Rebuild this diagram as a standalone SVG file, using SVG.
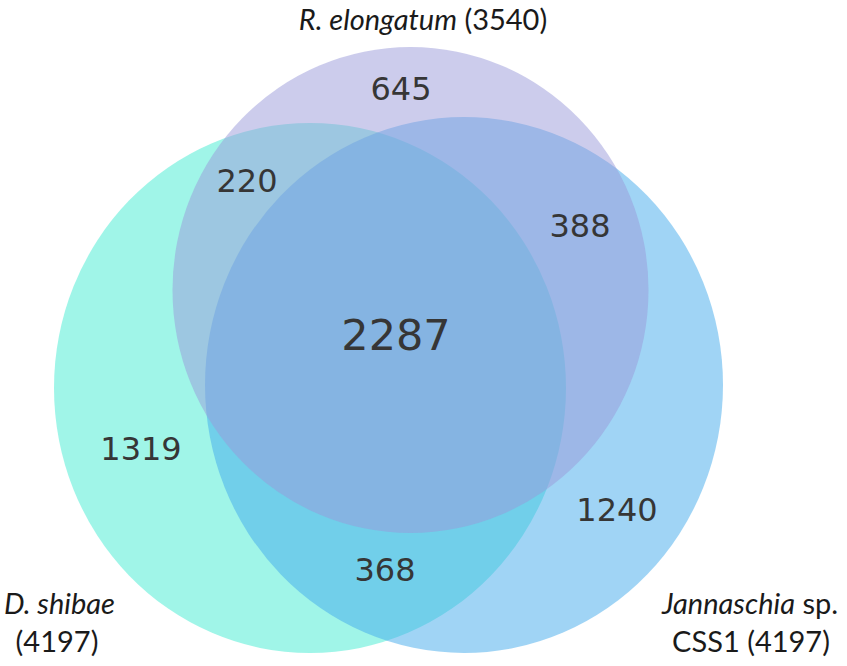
<svg xmlns="http://www.w3.org/2000/svg" width="847" height="666" viewBox="0 0 847 666">
<style>
.set{opacity:0.5}
.num{font-family:"DejaVu Sans",sans-serif;font-size:32px;fill:#363636;text-anchor:middle}
.big{font-size:43px}
.lab{font-family:Lato,"Liberation Sans",sans-serif;font-size:29px;fill:#1a1a1a;text-anchor:middle}
.it{font-style:italic}
</style>
<rect width="847" height="666" fill="#ffffff"/>
<g id="D_shibae">
<ellipse class="set" cx="310" cy="388" rx="256" ry="265" fill="#41ebd1"/>
</g>
<g id="Jannaschia">
<ellipse class="set" cx="464" cy="385" rx="259" ry="268" fill="#41a9eb"/>
</g>
<g id="R_elongatum">
<ellipse class="set" cx="410.5" cy="290" rx="238" ry="243" fill="#9999d9"/>
</g>
<g id="connectors"></g>
<g id="counts">
<text class="num" x="401" y="100">645</text>
<text class="num" x="247" y="192">220</text>
<text class="num" x="580" y="237">388</text>
<text class="num big" x="396" y="350">2287</text>
<text class="num" x="141" y="460">1319</text>
<text class="num" x="617" y="521">1240</text>
<text class="num" x="385" y="581">368</text>
</g>
<g id="labels">
<text class="lab" x="423" y="30"><tspan class="it">R. elongatum</tspan> (3540)</text>
<text class="lab" x="4" y="614" style="text-anchor:start"><tspan class="it">D. shibae</tspan></text>
<text class="lab" x="57" y="652">(4197)</text>
<text class="lab" x="750" y="614"><tspan class="it">Jannaschia</tspan> sp.</text>
<text class="lab" x="751" y="652">CSS1 (4197)</text>
</g>
</svg>
